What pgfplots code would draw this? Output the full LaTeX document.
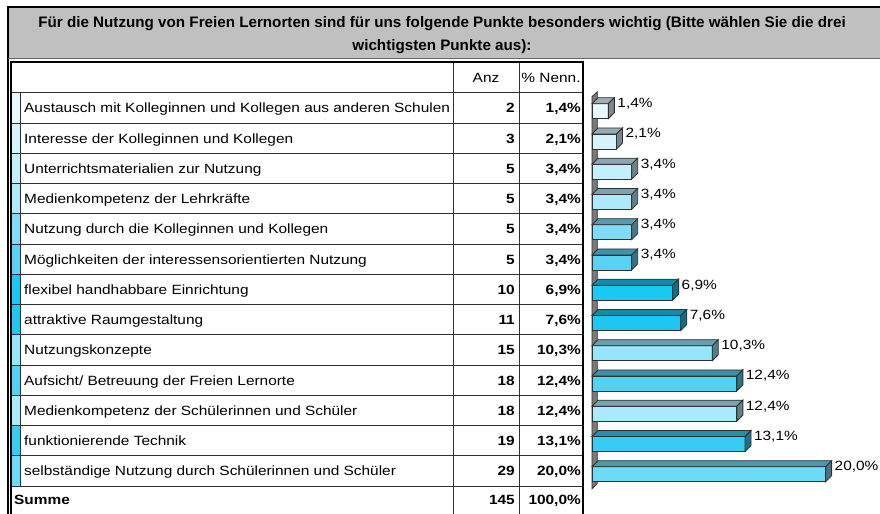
\documentclass[border=0pt]{standalone}
\usepackage{pgfplots}
\pgfplotsset{compat=1.18}
\usepackage{fontspec}
\setmainfont{Liberation Sans}
\newfontfamily\tf[FakeStretch=1.15]{Liberation Sans}
\newfontfamily\ttlf[FakeStretch=1.0]{Liberation Sans}
\newcommand\tfs{\tf\fontsize{13.4bp}{15bp}\selectfont}
\newcommand\ttls{\ttlf\fontsize{15.2bp}{17bp}\selectfont\bfseries}
\definecolor{hdr}{HTML}{C0C0C0}
\definecolor{bord}{HTML}{303030}
\definecolor{wallg}{HTML}{7A7A7A}
\definecolor{c1}{HTML}{E6F7FE}
\definecolor{c2}{HTML}{D6F3FD}
\definecolor{c3}{HTML}{C3EEFC}
\definecolor{c4}{HTML}{ADE8FB}
\definecolor{c5}{HTML}{7FDCF6}
\definecolor{c6}{HTML}{58D3F4}
\definecolor{c7}{HTML}{19C9F4}
\definecolor{c8}{HTML}{1FC6F0}
\definecolor{c9}{HTML}{95E5FB}
\definecolor{c10}{HTML}{52D1F2}
\definecolor{c11}{HTML}{ABEAFC}
\definecolor{c12}{HTML}{36CCF3}
\definecolor{c13}{HTML}{6DDBF7}
% table row: index, label, count, percent, colour
\newcommand\row[5]{%
  \fill[#5] (11.5,{93+30.25*(#1-1)}) rectangle (20,{93+30.25*#1});
  \node[anchor=base west,inner sep=0pt,font=\tfs] at (24,{108.1+30.25*(#1-1)+4.8}) {#2};
  \node[anchor=base east,inner sep=0pt,font=\tfs\bfseries] at (515,{108.1+30.25*(#1-1)+4.8}) {#3};
  \node[anchor=base east,inner sep=0pt,font=\tfs\bfseries] at (581,{108.1+30.25*(#1-1)+4.8}) {#4};
}
% 3D bar: y, value, colour, label
\newcommand\tdbar[4]{%
  \pgfmathsetmacro\ya{#1-0.248}%
  \pgfmathsetmacro\yb{#1+0.248}%
  \pgfmathsetmacro\yc{#1+0.446}%
  \pgfmathsetmacro\yd{#1-0.05}%
  \pgfmathsetmacro\xr{#2+0.514}%
  \addplot[fill=#3,draw=bord,line width=0.8bp] coordinates {(0,\ya) (#2,\ya) (#2,\yb) (0,\yb)} --cycle;
  \addplot[fill=#3!70!black,draw=bord,line width=0.8bp] coordinates {(0,\yb) (#2,\yb) (\xr,\yc) (0.514,\yc)} --cycle;
  \addplot[fill=#3!55!black,draw=bord,line width=0.8bp] coordinates {(#2,\ya) (\xr,\yd) (\xr,\yc) (#2,\yb)} --cycle;
  \node[anchor=base west,inner sep=0pt,font=\tfs] at (axis cs:{#2+0.76},{#1+0.116}) {#4};
}
\begin{document}
\begin{tikzpicture}[x=1bp,y=1bp]
\path[use as bounding box] (0,0) rectangle (880,514);
\begin{scope}[yshift=514bp,yscale=-1]
  \fill[hdr] (8,7) rectangle (880,58);
  \draw[black,line width=1.2bp] (880,7) -- (8,7) -- (8,514);
  \draw[black!60,line width=0.8bp] (8,58) -- (880,58);
  \node[anchor=base,inner sep=0pt,font=\ttls] at (442,27.5) {Für die Nutzung von Freien Lernorten sind für uns folgende Punkte besonders wichtig (Bitte wählen Sie die drei};
  \node[anchor=base,inner sep=0pt,font=\ttls] at (442,50.5) {wichtigsten Punkte aus):};
  % table
  \row{1}{Austausch mit Kolleginnen und Kollegen aus anderen Schulen}{2}{1,4\%}{c1}
  \row{2}{Interesse der Kolleginnen und Kollegen}{3}{2,1\%}{c2}
  \row{3}{Unterrichtsmaterialien zur Nutzung}{5}{3,4\%}{c3}
  \row{4}{Medienkompetenz der Lehrkräfte}{5}{3,4\%}{c4}
  \row{5}{Nutzung durch die Kolleginnen und Kollegen}{5}{3,4\%}{c5}
  \row{6}{Möglichkeiten der interessensorientierten Nutzung}{5}{3,4\%}{c6}
  \row{7}{flexibel handhabbare Einrichtung}{10}{6,9\%}{c7}
  \row{8}{attraktive Raumgestaltung}{11}{7,6\%}{c8}
  \row{9}{Nutzungskonzepte}{15}{10,3\%}{c9}
  \row{10}{Aufsicht/ Betreuung der Freien Lernorte}{18}{12,4\%}{c10}
  \row{11}{Medienkompetenz der Schülerinnen und Schüler}{18}{12,4\%}{c11}
  \row{12}{funktionierende Technik}{19}{13,1\%}{c12}
  \row{13}{selbständige Nutzung durch Schülerinnen und Schüler}{29}{20,0\%}{c13}
  \node[anchor=base west,inner sep=0pt,font=\tfs\bfseries] at (14,505) {Summe};
  \node[anchor=base east,inner sep=0pt,font=\tfs\bfseries] at (515,505) {145};
  \node[anchor=base east,inner sep=0pt,font=\tfs\bfseries] at (581,505) {100,0\%};
  \node[anchor=base,inner sep=0pt,font=\tfs] at (486,83) {Anz};
  \node[anchor=base,inner sep=0pt,font=\tfs] at (551,83) {\% Nenn.};
  \foreach \k in {0,...,13} {\draw[bord,line width=1bp] (11,{93+30.25*\k}) -- (583,{93+30.25*\k});}
  \draw[bord,line width=1bp] (20,93) -- (20,{93+30.25*13});
  \draw[bord,line width=1bp] (453,62) -- (453,514);
  \draw[bord,line width=1bp] (519,62) -- (519,514);
  \draw[black,line width=1.2bp] (11,514) -- (11,62) -- (583,62) -- (583,514);
\end{scope}
\begin{axis}[x=11.68bp, y=30.25bp, xmin=0, xmax=21, ymin=0, ymax=14,
  hide axis, clip=false, enlargelimits=false,
  anchor=south west, at={(592bp,9.55bp)}]
  \addplot[fill=wallg,draw=bord,line width=0.8bp] coordinates {(0,0.52) (0.45,0.69) (0.45,13.64) (0,13.48)} --cycle;
  \tdbar{13}{1.4}{c1}{1,4\%}
  \tdbar{12}{2.1}{c2}{2,1\%}
  \tdbar{11}{3.4}{c3}{3,4\%}
  \tdbar{10}{3.4}{c4}{3,4\%}
  \tdbar{9}{3.4}{c5}{3,4\%}
  \tdbar{8}{3.4}{c6}{3,4\%}
  \tdbar{7}{6.9}{c7}{6,9\%}
  \tdbar{6}{7.6}{c8}{7,6\%}
  \tdbar{5}{10.3}{c9}{10,3\%}
  \tdbar{4}{12.4}{c10}{12,4\%}
  \tdbar{3}{12.4}{c11}{12,4\%}
  \tdbar{2}{13.1}{c12}{13,1\%}
  \tdbar{1}{20.0}{c13}{20,0\%}
\end{axis}
\end{tikzpicture}
\end{document}
